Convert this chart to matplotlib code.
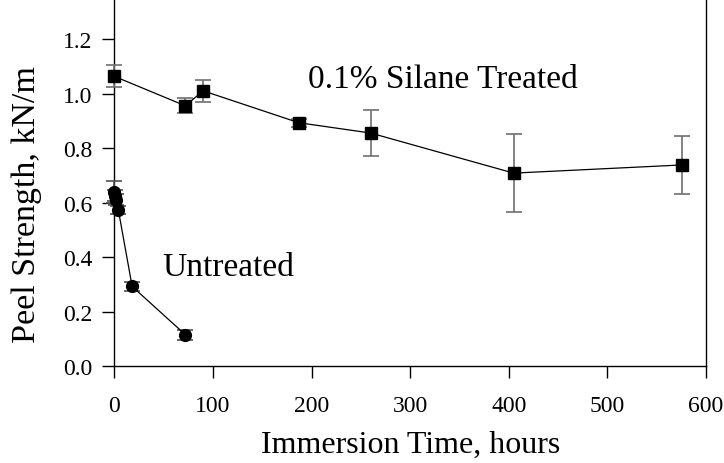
# peel strength vs immersion time, silane treated vs untreated
import matplotlib
matplotlib.use("Agg")
import matplotlib.pyplot as plt

# silane treated samples
treated_hours = [0, 72, 90, 187, 260, 405, 576]
treated_peel = [1.063, 0.955, 1.010, 0.893, 0.855, 0.708, 0.738]
treated_err = [0.040, 0.028, 0.040, 0.014, 0.086, 0.142, 0.108]

# untreated samples
untreated_hours = [0, 1, 2, 4, 18, 72]
untreated_peel = [0.640, 0.625, 0.610, 0.573, 0.292, 0.115]
untreated_err = [0.040, 0.020, 0.020, 0.015, 0.015, 0.018]

yticks = [0.0, 0.2, 0.4, 0.6, 0.8, 1.0, 1.2]

plt.rcParams["font.family"] = ["Liberation Serif", "DejaVu Serif"]

fig = plt.figure(figsize=(7.24, 4.64), dpi=100)
ax = fig.add_axes([0.158, 0.209, 0.817, 0.791])

ax.errorbar(treated_hours, treated_peel, yerr=treated_err, color="black",
            marker="s", markersize=8, linewidth=0.9, ecolor="#707070",
            elinewidth=1.2, capsize=6, capthick=1.2, clip_on=False, zorder=3)
ax.errorbar(untreated_hours, untreated_peel, yerr=untreated_err, color="black",
            marker="o", markersize=8.5, linewidth=0.9, ecolor="#505050",
            elinewidth=1.2, capsize=6, capthick=1.2, clip_on=False, zorder=3)

ax.text(196, 1.053, "0.1% Silane Treated", fontsize=24, va="center", ha="left")
ax.text(49, 0.363, "Untreated", fontsize=24, va="center", ha="left")

ax.set_xlim(0, 600)
ax.set_ylim(0, 1.347)
ax.set_xticks(range(0, 601, 100))
ax.set_yticks(yticks)
ax.set_yticklabels([f"{v:.1f}" for v in yticks])

ax.spines["top"].set_visible(False)
for s in ["left", "bottom", "right"]:
    ax.spines[s].set_linewidth(1.0)
ax.tick_params(axis="both", direction="out", length=8.6, width=1.0,
               labelsize=17, pad=7)
ax.tick_params(axis="x", pad=12)

ax.set_xlabel("Immersion Time, hours", fontsize=23, labelpad=10)
ax.set_ylabel("Peel Strength, kN/m", fontsize=24.5)
ax.yaxis.set_label_coords(-0.123, 0.444)

fig.savefig("out.png", dpi=100)
